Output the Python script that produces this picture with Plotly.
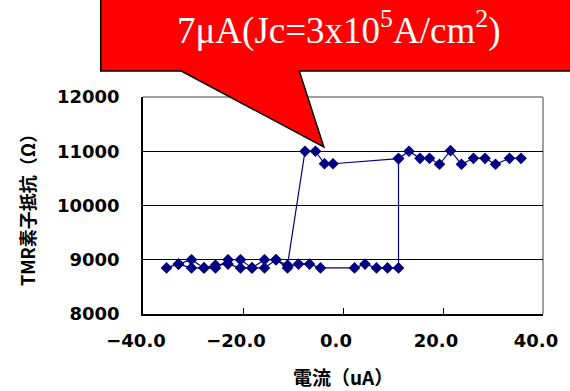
import plotly.graph_objects as go

# Measurement sequence (sweep order), current in uA, resistance in ohm
current_ua = [35.6, 33.3, 30.5, 28.4, 26.1, 23.7, 21.5, 19.3, 17.3, 15.4, 13.2, 11.1,
              -2.0, -3.7, -5.5, -7.6,
              -11.1, -13.4, -15.7, -18.2, -20.5, -23.0, -25.5, -27.8, -30.3, -32.9, -35.3,
              -32.9, -30.3, -27.8, -25.5, -23.0, -20.5, -18.2, -15.7, -13.4, -11.1,
              -8.9, -6.7, -4.5, 2.3, 4.4, 6.7, 8.9, 11.1, 11.1]
resistance = [10870, 10870, 10760, 10870, 10870, 10760, 11010, 10760, 10870, 10870, 11000, 10865,
              10770, 10770, 11000, 11000,
              8900, 9000, 9000, 8850, 9000, 9000, 8850, 8850, 9000, 8920, 8850,
              8920, 8850, 8850, 8900, 8920, 8850, 8850, 8850, 9000, 8850,
              8920, 8920, 8850, 8850, 8920, 8850, 8850, 8850, 10865]

x_ticks = [-40, -20, 0, 20, 40]
x_tick_labels = ["\u221240.0", "\u221220.0", "0.0", "20.0", "40.0"]
y_ticks = [8000, 9000, 10000, 11000, 12000]
y_tick_labels = ["8000", "9000", "10000", "11000", "12000"]

x_title = "電流（uA）"
y_title = "TMR素子抵抗（Ω）"
callout_text = "7μA(Jc=3x10<sup>5</sup>A/cm<sup>2</sup>)"

W, H = 570, 391
L, R, T, B = 143, 20, 97, 77
pw, ph = W - L - R, H - T - B

def px(xp):
    return (xp - L) / pw

def py(yp):
    return (H - B - yp) / ph

navy = "#000080"
tick_font = dict(family="DejaVu Sans", size=18, color="black", weight="bold")

fig = go.Figure()
fig.add_trace(go.Scatter(
    x=current_ua, y=resistance, mode="lines+markers",
    line=dict(color=navy, width=1.2),
    marker=dict(symbol="diamond", size=9, color=navy),
    showlegend=False, hoverinfo="skip"))

fig.update_layout(
    width=W, height=H,
    margin=dict(l=L, r=R, t=T, b=B),
    paper_bgcolor="white", plot_bgcolor="white",
    xaxis=dict(range=[-40, 40], tickvals=x_ticks, ticktext=x_tick_labels,
               showgrid=False, zeroline=False, showline=True, linecolor="black",
               linewidth=1.5, ticks="inside", ticklen=6, tickcolor="black",
               tickfont=tick_font, ticklabelstandoff=10, ticklabelshift=-7,
               ticklabeloverflow="allow"),
    yaxis=dict(range=[8000, 12000], tickvals=y_ticks, ticktext=y_tick_labels,
               showgrid=True, gridcolor="black", gridwidth=1, zeroline=False,
               showline=True, linecolor="black", linewidth=1.5,
               ticks="inside", ticklen=6, tickcolor="black",
               tickfont=tick_font, ticklabelstandoff=18),
)

# gray frame on top/right
fig.add_shape(type="line", xref="paper", yref="paper", x0=0, x1=1, y0=1, y1=1,
              line=dict(color="#808080", width=1.5), layer="below")
fig.add_shape(type="line", xref="paper", yref="paper", x0=1, x1=1, y0=0, y1=1,
              line=dict(color="#808080", width=1.5), layer="below")

# callout balloon
pts = [(100, -5), (580, -5), (580, 71), (302, 71), (327, 147), (182, 71), (100, 71)]
path = "M " + " L ".join(f"{px(a):.4f},{py(b):.4f}" for a, b in pts) + " Z"
fig.add_shape(type="path", xref="paper", yref="paper", path=path,
              fillcolor="#FF0000", line=dict(color="black", width=1.5), layer="above")

fig.add_annotation(text=callout_text, xref="paper", yref="paper",
                   x=px(342), y=py(28), xanchor="center", yanchor="middle",
                   showarrow=False,
                   font=dict(family="Liberation Serif", size=37, color="white"))

fig.add_annotation(text=x_title, xref="paper", yref="paper",
                   x=px(347), y=py(376), xanchor="center", yanchor="middle",
                   showarrow=False,
                   font=dict(family="Noto Sans CJK JP", size=19, color="black", weight="bold"))
fig.add_annotation(text=y_title, xref="paper", yref="paper", textangle=-90,
                   x=px(25), y=py(206), xanchor="center", yanchor="middle",
                   showarrow=False,
                   font=dict(family="Noto Sans CJK JP", size=18, color="black", weight="bold"))

fig.write_html("out.html", config={"displayModeBar": False},
               post_script="document.body.style.margin='0';document.body.style.overflow='hidden';")
